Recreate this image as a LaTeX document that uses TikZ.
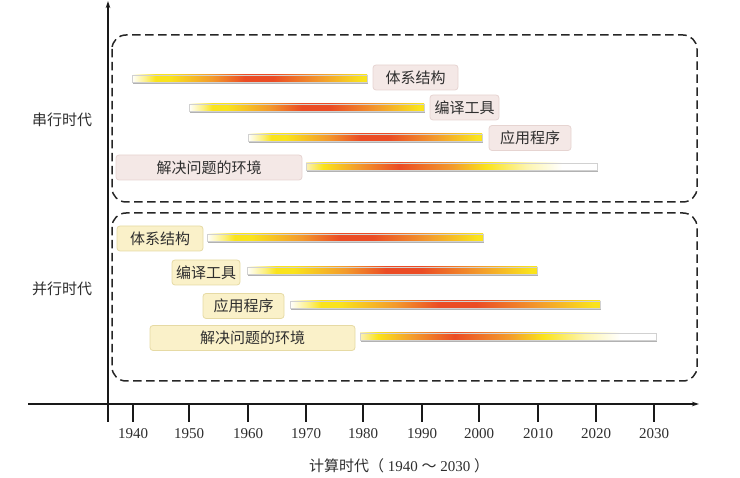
\documentclass[tikz,border=0pt]{standalone}
\usepackage{fontspec}
\setmainfont{Liberation Serif}
\newfontfamily\cjk{Noto Sans CJK SC}
\usetikzlibrary{arrows.meta}

\definecolor{serialfill}{HTML}{F4E8E6}
\definecolor{serialline}{HTML}{E6D4D1}
\definecolor{parfill}{HTML}{FAF1C9}
\definecolor{parline}{HTML}{E6DAA4}
\definecolor{baryellow}{HTML}{FAE31C}
\definecolor{barorange}{HTML}{F39A2C}
\definecolor{barred}{HTML}{EB4C25}
\definecolor{barpale}{HTML}{FBF1B8}
\definecolor{inktext}{HTML}{2E2E2E}

% bars that end in yellow
\pgfdeclarehorizontalshading{barfade}{100bp}{color(0bp)=(white); color(25bp)=(white);
  color(28bp)=(baryellow!55!white); color(30bp)=(baryellow); color(33bp)=(baryellow);
  color(42bp)=(barorange); color(49bp)=(barred); color(55bp)=(barred);
  color(65bp)=(barorange); color(74bp)=(baryellow); color(100bp)=(baryellow)}
% bars that fade out to white
\pgfdeclarehorizontalshading{barfadeout}{100bp}{color(0bp)=(barpale); color(25bp)=(barpale);
  color(28bp)=(baryellow); color(34bp)=(barorange); color(41bp)=(barred);
  color(50bp)=(barorange); color(56bp)=(baryellow); color(63bp)=(baryellow!35!white);
  color(69bp)=(white); color(100bp)=(white)}

\begin{document}
\begin{tikzpicture}[x=1pt,y=-1pt,
  era/.style={draw=black!85, line width=1.5pt, dash pattern=on 8.5pt off 4.5pt, rounded corners=14pt},
  tag/.style={rounded corners=3pt, line width=0.8pt, minimum height=25pt, inner xsep=0pt,
    font=\cjk\fontsize{15}{18}\selectfont, text=inktext},
  serialtag/.style={tag, fill=serialfill, draw=serialline},
  partag/.style={tag, fill=parfill, draw=parline},
  eralabel/.style={font=\cjk\fontsize{15}{18}\selectfont, text=inktext},
  yearlabel/.style={font=\fontsize{15}{18}\selectfont, text=inktext}]
  \useasboundingbox (0,0) rectangle (740,478);

  % Era frames
  \draw[era] (112,35) rectangle (697,202);
  \draw[era] (112,213) rectangle (697,381);

  % Bars: start / end / centre / shading
  \foreach \xa/\xb/\yc/\shd in {%
    132/367/79/barfade, 189/424/108/barfade, 248/482/138/barfade, 306/597/167/barfadeout,
    207/483/238/barfade, 247/537/271/barfade, 290/600/305/barfade, 360/656/337/barfadeout} {
    \fill[black!30] (\xa+1,\yc-2) rectangle (\xb+1,\yc+5.5);
    \shade[shading=\shd, draw=black!18, line width=0.4pt] (\xa,\yc-4) rectangle (\xb,\yc+3);
  }

  % Serial era tags
  \node[serialtag, minimum width=85pt] (serArch) at (415.5,77.5) {体系结构};
  \node[serialtag, minimum width=69pt] (serComp) at (464.5,107.5) {编译工具};
  \node[serialtag, minimum width=82pt] (serApp) at (530,138) {应用程序};
  \node[serialtag, minimum width=186pt] (serEnv) at (209,167.5) {解决问题的环境};
  % Parallel era tags
  \node[partag, minimum width=86pt] (parArch) at (160,238.5) {体系结构};
  \node[partag, minimum width=68pt] (parComp) at (206,272.5) {编译工具};
  \node[partag, minimum width=81pt] (parApp) at (243.5,306) {应用程序};
  \node[partag, minimum width=205pt] (parEnv) at (252.5,338) {解决问题的环境};

  % Era names
  \node[eralabel] (serialEra) at (62,120) {串行时代};
  \node[eralabel] (parallelEra) at (62,289) {并行时代};

  % Axes
  \coordinate (xaxisL) at (28,404);
  \coordinate (xaxisR) at (699,404);
  \coordinate (yaxisB) at (108,422);
  \coordinate (yaxisT) at (108,1);
  \draw[-{Stealth[length=7pt,width=4.5pt]}, line width=1.1pt, black!90] (xaxisL) -- (xaxisR);
  \draw[-{Stealth[length=7pt,width=4.5pt]}, line width=1.1pt, black!90] (yaxisB) -- (yaxisT);

  % Year ticks
  \foreach \xt/\yr in {133/1940, 189/1950, 248/1960, 306/1970, 363/1980,
    422/1990, 479/2000, 538/2010, 596/2020, 654/2030} {
    \draw[line width=1.1pt, black!90] (\xt,404) -- (\xt,422);
    \node[yearlabel] (year\yr) at (\xt,434) {\yr};
  }
  \node[yearlabel] (axisTitle) at (399,466)
    {{\cjk 计算时代（}\ 1940 {\cjk ～} 2030\ {\cjk ）}};
\end{tikzpicture}
\end{document}
